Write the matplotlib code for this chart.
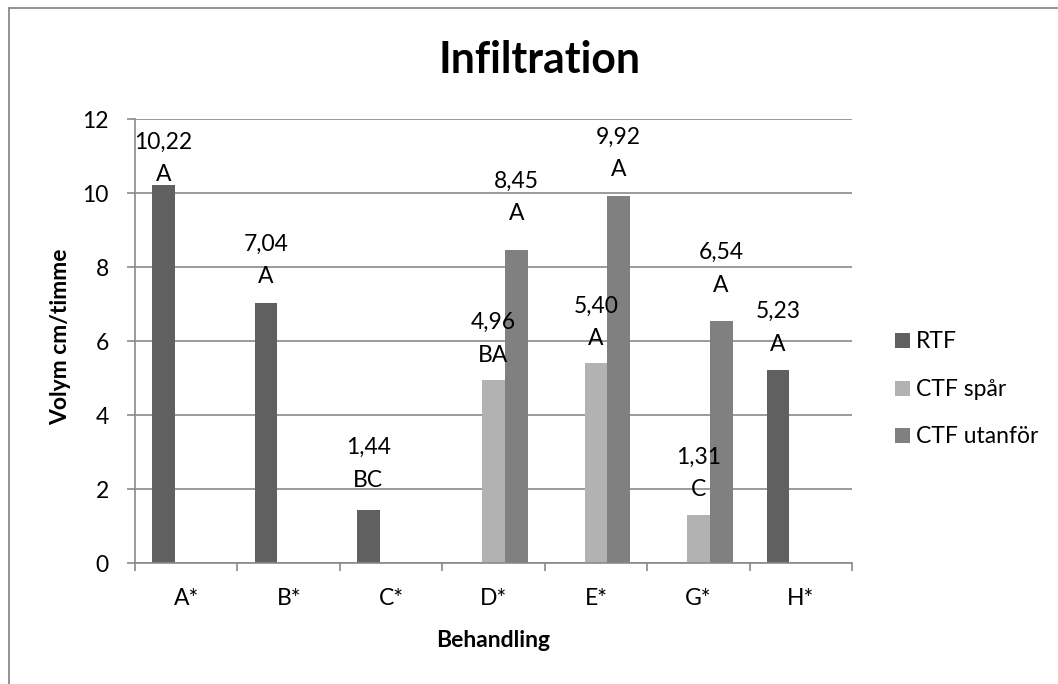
import numpy as np
import matplotlib
matplotlib.use("Agg")
import matplotlib.pyplot as plt
from matplotlib.lines import Line2D
from matplotlib.patches import Rectangle

# ---------------- data ----------------
categories = ["A*", "B*", "C*", "D*", "E*", "G*", "H*"]
series_names = ["RTF", "CTF spår", "CTF utanför"]
rtf = [10.22, 7.04, 1.44, np.nan, np.nan, np.nan, 5.23]
ctf_spar = [np.nan, np.nan, np.nan, 4.96, 5.40, 1.31, np.nan]
ctf_utanfor = [np.nan, np.nan, np.nan, 8.45, 9.92, 6.54, np.nan]
rtf_letters = ["A", "A", "BC", "", "", "", "A"]
ctf_spar_letters = ["", "", "", "BA", "A", "C", ""]
ctf_utanfor_letters = ["", "", "", "A", "A", "A", ""]
y_ticks = [0, 2, 4, 6, 8, 10, 12]

# ---------------- style ----------------
W, H = 1058, 684
colors = ["#606060", "#b2b2b2", "#808080"]
grid_col = "#8a8a8a"
FONT = "Lato"
FS = 16.5
# gap (px) between bar top and baseline of the letter line, per series/category
label_gap_px = [
    [3.5, 19.5, 23.3, 19, 19, 19, 19],
    [19, 19, 19, 18, 18.5, 18.8, 19],
    [19, 19, 19, 30, 19.6, 29.6, 19],
]
line_pitch_px = 32.5

plt.rcParams["font.family"] = [FONT, "DejaVu Sans"]

fig = plt.figure(figsize=(W / 100, H / 100), dpi=100)
fig.patch.set_facecolor("white")

def fx(px):
    return px / W

def fy(py):
    return 1 - py / H

ax = fig.add_axes([fx(135), fy(563.3), fx(852) - fx(135), fy(119) - fy(563.3)])

values = [rtf, ctf_spar, ctf_utanfor]
letters = [rtf_letters, ctf_spar_letters, ctf_utanfor_letters]
x = np.arange(len(categories))
bw = 1 / 4.5
for k, (vals, name, col) in enumerate(zip(values, series_names, colors)):
    pos = x + (k - 1) * bw
    ax.bar(pos, vals, width=bw, color=col, label=name, zorder=3, linewidth=0)

# data labels
px2pt = 72 / 100
for k, vals in enumerate(values):
    for i, v in enumerate(vals):
        if np.isnan(v):
            continue
        xp = x[i] + (k - 1) * bw
        gap = label_gap_px[k][i]
        txt_v = f"{v:.2f}".replace(".", ",")
        ax.annotate(letters[k][i], (xp, v), xytext=(0, gap * px2pt),
                    textcoords="offset points", ha="center", va="baseline",
                    fontsize=FS, zorder=5, annotation_clip=False)
        ax.annotate(txt_v, (xp, v), xytext=(0, (gap + line_pitch_px) * px2pt),
                    textcoords="offset points", ha="center", va="baseline",
                    fontsize=FS, zorder=5, annotation_clip=False)

ax.set_xlim(-0.5, len(categories) - 0.5)
ax.set_ylim(0, 12)
ax.set_yticks(y_ticks)
ax.set_yticklabels([str(t) for t in y_ticks], fontsize=FS)
ax.set_xticks(x)
ax.set_xticklabels(categories, fontsize=FS)
ax.set_xticks(np.arange(-0.5, len(categories)), minor=True)

ax.tick_params(axis="x", which="major", length=0, pad=18)
ax.tick_params(axis="x", which="minor", length=5.8, width=1.2, color=grid_col, direction="out")
ax.tick_params(axis="y", which="major", length=5.8, width=1.2, color=grid_col, direction="out", pad=13)

ax.yaxis.grid(True, color=grid_col, linewidth=1.2, zorder=0)
ax.set_axisbelow(True)
for s in ["top", "right"]:
    ax.spines[s].set_visible(False)
for s in ["left", "bottom"]:
    ax.spines[s].set_color(grid_col)
    ax.spines[s].set_linewidth(1.2)
    ax.spines[s].set_zorder(4)

# titles
fig.text(fx(539), fy(73.3), "Infiltration", ha="center", va="baseline",
         fontsize=30.8, fontweight="bold")
fig.text(fx(493.5), fy(647), "Behandling", ha="center", va="baseline",
         fontsize=FS, fontweight="bold")
fig.text(fx(61), fy(336.5), "Volym cm/timme", ha="center", va="center",
         rotation=90, fontsize=FS, fontweight="bold")

# legend (manual, Excel-like)
leg_y = [348.3, 395.8, 443.3]
for name, col, yb in zip(series_names, colors, leg_y):
    fig.add_artist(Rectangle((fx(895), fy(yb)), fx(15), fy(0) - fy(15),
                             transform=fig.transFigure, color=col, linewidth=0))
    fig.text(fx(916), fy(yb), name, ha="left", va="baseline", fontsize=FS)

# chart border (top & left visible)
fig.add_artist(Line2D([fx(9), fx(W + 5)], [fy(7.5), fy(7.5)], transform=fig.transFigure,
                      color=grid_col, linewidth=1.3))
fig.add_artist(Line2D([fx(9), fx(9)], [fy(7.5), fy(H + 5)], transform=fig.transFigure,
                      color=grid_col, linewidth=1.3))

fig.savefig("out.png", dpi=100, facecolor="white")
